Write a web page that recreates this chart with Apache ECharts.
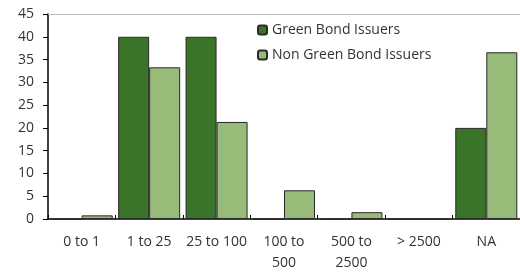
<!DOCTYPE html>
<html>
<head>
<meta charset="utf-8">
<script src="https://cdn.jsdelivr.net/npm/echarts@6/dist/echarts.min.js"></script>
<style>
  html, body { margin: 0; padding: 0; background: #fff; }
  #chart { width: 520px; height: 274px; }
</style>
</head>
<body>
<div id="chart"></div>
<script>
// chart data
var categories = ["0 to 1", "1 to 25", "25 to 100", "100 to\n500", "500 to\n2500", "> 2500", "NA"];
var greenIssuers = [0, 40, 40, 0, 0, 0, 20];
var nonGreenIssuers = [0.8, 33.3, 21.3, 6.3, 1.5, 0, 36.6];
var yTicks = { min: 0, max: 45, interval: 5 };

var chart = echarts.init(document.getElementById("chart"));
var font = "'Open Sans', 'Noto Sans', sans-serif";

var option = {
  animation: false,
  grid: { left: 48, right: 0, top: 14, bottom: 53 },
  legend: {
    orient: "vertical",
    left: 252,
    top: 18,
    itemWidth: 9,
    itemHeight: 9,
    itemGap: 11,
    textStyle: { fontFamily: font, fontSize: 14, color: "#333" },
    data: ["Green Bond Issuers", "Non Green Bond Issuers"]
  },
  xAxis: [
    {
      type: "category",
      data: categories,
      axisLine: { lineStyle: { color: "#000", width: 1.5 } },
      axisTick: { show: true, inside: true, length: 4, lineStyle: { color: "#000" } },
      axisLabel: { fontFamily: font, fontSize: 14, color: "#333", margin: 13, lineHeight: 21, interval: 0 }
    },
    {
      type: "category",
      position: "top",
      data: categories,
      axisLine: { lineStyle: { color: "#bfbfbf", width: 1 } },
      axisTick: { show: false },
      axisLabel: { show: false }
    }
  ],
  yAxis: {
    type: "value",
    min: yTicks.min,
    max: yTicks.max,
    interval: yTicks.interval,
    axisLine: { show: true, lineStyle: { color: "#000", width: 1.5 } },
    axisTick: { show: true, length: 5, lineStyle: { color: "#000" } },
    splitLine: { show: false },
    axisLabel: { fontFamily: font, fontSize: 14, color: "#333", margin: 14 }
  },
  series: [
    {
      name: "Green Bond Issuers",
      type: "bar",
      data: greenIssuers,
      barGap: "0%",
      barCategoryGap: "8%",
      itemStyle: { color: "#3a7428", borderColor: "#2a2a2a", borderWidth: 1 }
    },
    {
      name: "Non Green Bond Issuers",
      type: "bar",
      data: nonGreenIssuers,
      itemStyle: { color: "#98bb7a", borderColor: "#2a2a2a", borderWidth: 1 }
    }
  ]
};
chart.setOption(option);
</script>
</body>
</html>
